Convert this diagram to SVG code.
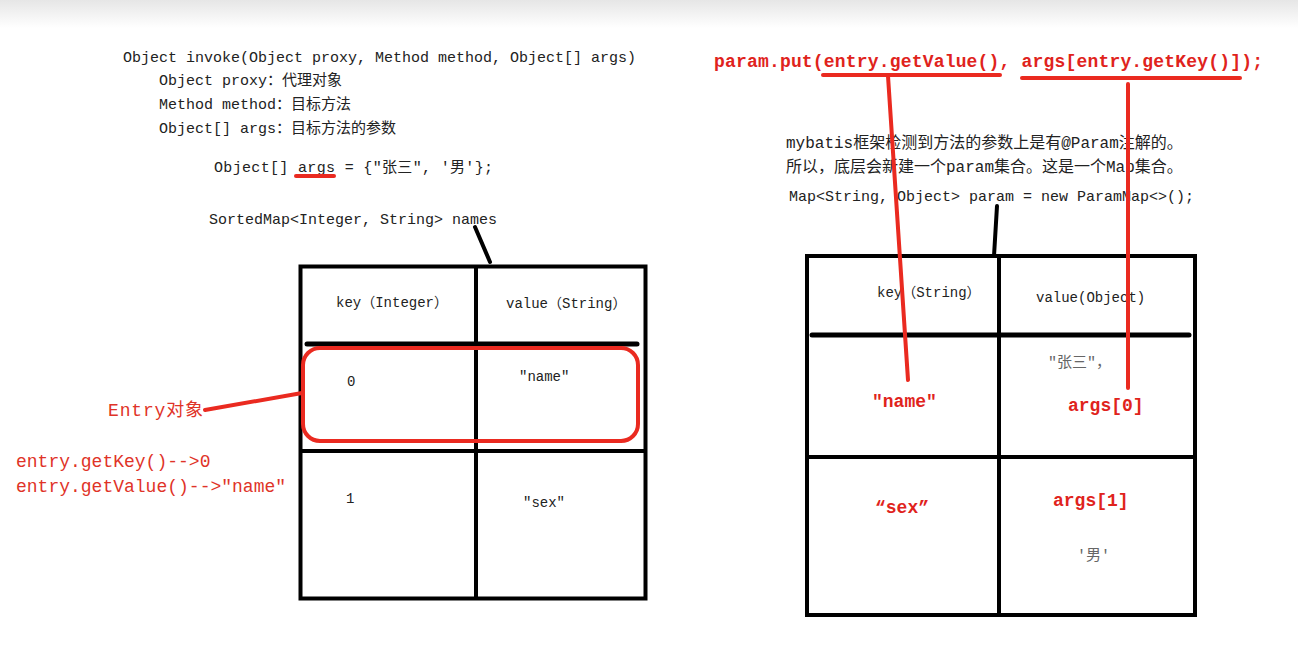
<svg xmlns="http://www.w3.org/2000/svg" width="1298" height="656" viewBox="0 0 1298 656">
<defs>
<linearGradient id="topfade" x1="0" y1="0" x2="0" y2="1">
<stop offset="0" stop-color="#e6e6e6"/>
<stop offset="1" stop-color="#ffffff"/>
</linearGradient>
</defs>
<style>
.code{font-family:"Liberation Mono","Noto Sans CJK SC",monospace;font-size:15px;fill:#222}
.cell{font-family:"Liberation Mono","Noto Sans CJK SC",monospace;font-size:14px;fill:#222}
.gray{font-family:"Liberation Mono","Noto Sans CJK SC",monospace;font-size:15px;fill:#666}
.red{font-family:"Liberation Mono","Noto Sans CJK SC",monospace;font-size:18px;fill:#df3328}
.redb{font-family:"Liberation Mono","Noto Sans CJK SC",monospace;font-size:18px;fill:#e0231c;font-weight:bold}
.bk{stroke:#000;stroke-width:4;fill:none}
.hd{stroke:#000;stroke-width:5;stroke-linecap:round;fill:none}
.rl{stroke:#ea2a20;stroke-width:4;stroke-linecap:round;fill:none}
</style>
<rect x="0" y="0" width="1298" height="656" fill="#fff"/>
<rect x="0" y="0" width="1298" height="28" fill="url(#topfade)"/>

<g id="signature">
<text class="code" x="123" y="62">Object invoke(Object proxy, Method method, Object[] args)</text>
<text class="code" x="159" y="85">Object proxy：代理对象</text>
<text class="code" x="159" y="109">Method method：目标方法</text>
<text class="code" x="159" y="133">Object[] args：目标方法的参数</text>
<text class="code" x="214" y="172" textLength="279" lengthAdjust="spacing">Object[] args = {″张三″, '男'};</text>
<text class="code" x="209" y="224">SortedMap&lt;Integer, String&gt; names</text>
</g>

<g id="param-code">
<text class="redb" x="714" y="67" textLength="549" lengthAdjust="spacing">param.put(entry.getValue(), args[entry.getKey()]);</text>
<text class="code" x="786" y="148" style="font-size:16px">mybatis框架检测到方法的参数上是有@Param注解的。</text>
<text class="code" x="786" y="172" style="font-size:16px">所以，底层会新建一个param集合。这是一个Map集合。</text>
<text class="code" x="789" y="201">Map&lt;String, Object&gt; param = new ParamMap&lt;&gt;();</text>
</g>

<g id="left-table">
<rect class="bk" x="300.5" y="266.5" width="345" height="332"/>
<line class="bk" x1="476" y1="266" x2="476" y2="599"/>
<line class="hd" x1="307" y1="344" x2="637" y2="344"/>
<line class="bk" x1="300" y1="451" x2="646" y2="451"/>
<text class="cell" x="336" y="307">key（Integer）</text>
<text class="cell" x="506" y="308">value（String）</text>
<text class="cell" x="347" y="386">0</text>
<text class="cell" x="519" y="381">″name″</text>
<text class="cell" x="346" y="503">1</text>
<text class="cell" x="523" y="507">″sex″</text>
</g>

<g id="entry-object">
<rect x="303" y="348" width="335" height="93" rx="17" ry="17" fill="none" stroke="#ea2a20" stroke-width="4"/>
<text class="red" x="108" y="416" textLength="95" lengthAdjust="spacing">Entry对象</text>
<text class="red" x="16" y="467">entry.getKey()--&gt;0</text>
<text class="red" x="16" y="492">entry.getValue()--&gt;″name″</text>
</g>

<g id="right-table">
<rect class="bk" x="807" y="256" width="388" height="359"/>
<line class="bk" x1="999" y1="256" x2="999" y2="615"/>
<line class="hd" x1="812" y1="335" x2="1189" y2="335"/>
<line class="bk" x1="807" y1="457" x2="1195" y2="457"/>
<text class="cell" x="877" y="297">key（String）</text>
<text class="cell" x="1036" y="302">value(Object)</text>
<text class="gray" x="1048" y="367">″张三″，</text>
<text class="redb" x="872" y="407">″name″</text>
<text class="redb" x="1068" y="411">args[0]</text>
<text class="redb" x="875" y="513">“sex”</text>
<text class="redb" x="1053" y="506">args[1]</text>
<text class="gray" x="1077" y="560">'男'</text>
</g>

<g id="connectors">
<line class="bk" x1="475" y1="227" x2="490" y2="262" stroke-linecap="round"/>
<line class="bk" x1="997" y1="206" x2="994" y2="256" stroke-linecap="round"/>
<line class="rl" x1="205" y1="410" x2="302" y2="393"/>
<line class="rl" x1="296" y1="176" x2="334" y2="176"/>
<line class="rl" x1="823" y1="75" x2="1000" y2="75"/>
<line class="rl" x1="1022" y1="78" x2="1240" y2="78"/>
<line class="rl" x1="888" y1="76" x2="908" y2="380"/>
<line class="rl" x1="1128" y1="84" x2="1128" y2="388"/>
</g>
</svg>
